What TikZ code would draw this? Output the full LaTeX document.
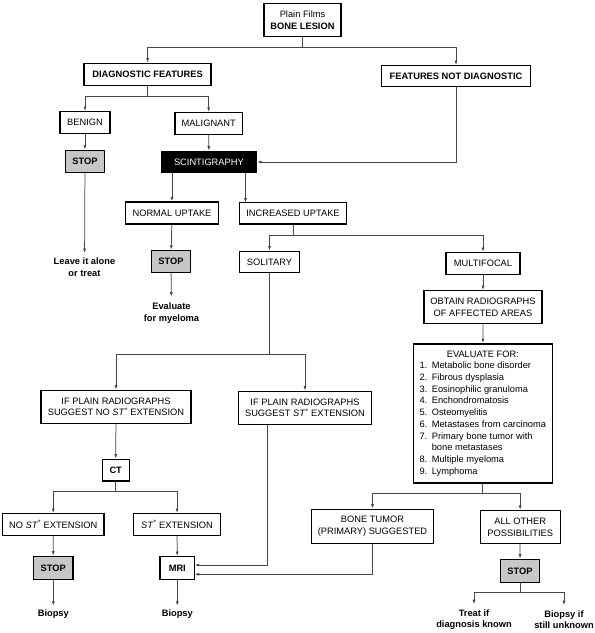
\documentclass[tikz,border=0pt]{standalone}
\usepackage{fontspec}
\setmainfont{Liberation Sans}
\usetikzlibrary{arrows.meta}
\definecolor{stopgray}{gray}{0.78}
\definecolor{linegray}{gray}{0.28}
\newcommand{\stmark}{\textit{ST}\textsuperscript{*}}
\begin{document}
\begin{tikzpicture}[x=1pt,y=-1pt,
  box/.style={draw=black, line width=1.4pt, fill=white, inner sep=1pt, font=\fontsize{9.3}{11.7}\selectfont, align=center},
  bbox/.style={box, font=\fontsize{9.3}{11.7}\selectfont\bfseries},
  stopbox/.style={box, fill=stopgray, font=\fontsize{9.3}{11.7}\selectfont\bfseries, minimum width=39.5pt, minimum height=22pt},
  darkbox/.style={box, fill=black, text=white},
  note/.style={font=\fontsize{9.3}{11.7}\selectfont\bfseries, align=center, inner sep=0pt},
  conn/.style={draw=linegray, line width=0.75pt},
  arr/.style={conn, -{Latex[length=4.5pt,width=3pt]}}
]
\useasboundingbox (0,0) rectangle (595,633);
\fill[white] (0,0) rectangle (595,633);

% nodes
\node[box, minimum width=77pt, minimum height=33pt] (top) at (302.5,20) {Plain Films\\\textbf{BONE LESION}};
\node[bbox, minimum width=127pt, minimum height=22pt] (df) at (147.6,74.3) {DIAGNOSTIC FEATURES};
\node[bbox, minimum width=149pt, minimum height=21pt] (fnd) at (456,76.2) {FEATURES NOT DIAGNOSTIC};
\node[box, minimum width=50pt, minimum height=21.6pt] (ben) at (85,122.5) {BENIGN};
\node[box, minimum width=67.5pt, minimum height=21.6pt] (mal) at (208.7,123.5) {MALIGNANT};
\node[stopbox] (stop1) at (85,161.2) {STOP};
\node[darkbox, minimum width=95pt, minimum height=21.4pt] (sci) at (208.9,162) {SCINTIGRAPHY};
\node[box, minimum width=93pt, minimum height=22pt] (nu) at (172,213) {NORMAL UPTAKE};
\node[box, minimum width=107pt, minimum height=21.3pt] (iu) at (293,213.3) {INCREASED UPTAKE};
\node[note] (leave) at (84.5,267.5) {Leave it alone\\or treat};
\node[stopbox] (stop2) at (171,261.5) {STOP};
\node[note] (myel) at (171.5,313) {Evaluate\\for myeloma};
\node[box, minimum width=60pt, minimum height=21.4pt] (sol) at (269.5,262) {SOLITARY};
\node[box, minimum width=74pt, minimum height=21.6pt] (mul) at (483,263.5) {MULTIFOCAL};
\node[box, minimum width=118pt, minimum height=33pt] (obt) at (483,307.2) {OBTAIN RADIOGRAPHS\\OF AFFECTED AREAS};
\node[box, minimum width=139pt, minimum height=139pt] (eval) at (482.8,413.3) {%
  \begin{tabular}{@{}r@{\hspace{4.5pt}}l@{}}
  \multicolumn{2}{c}{EVALUATE FOR:}\\
  1. & Metabolic bone disorder\\
  2. & Fibrous dysplasia\\
  3. & Eosinophilic granuloma\\
  4. & Enchondromatosis\\
  5. & Osteomyelitis\\
  6. & Metastases from carcinoma\\
  7. & Primary bone tumor with\\
     & bone metastases\\
  8. & Multiple myeloma\\
  9. & Lymphoma
  \end{tabular}};
\node[box, minimum width=150pt, minimum height=33pt] (ifno) at (116,406.8) {IF PLAIN RADIOGRAPHS\\SUGGEST NO \stmark{} EXTENSION};
\node[box, minimum width=133.4pt, minimum height=33pt] (ifst) at (305,407.8) {IF PLAIN RADIOGRAPHS\\SUGGEST \stmark{} EXTENSION};
\node[bbox, minimum width=27pt, minimum height=21.7pt] (ct) at (115.7,470.2) {CT};
\node[box, minimum width=101.7pt, minimum height=21.6pt] (nost) at (53.2,524.5) {NO \stmark{} EXTENSION};
\node[box, minimum width=87.4pt, minimum height=21.6pt] (stx) at (177,524.5) {\stmark{} EXTENSION};
\node[stopbox, minimum height=23pt] (stop3) at (53.3,567.8) {STOP};
\node[bbox, minimum width=34.7pt, minimum height=22.6pt] (mri) at (177.3,568) {MRI};
\node[note] (bio1) at (53.3,614.3) {Biopsy};
\node[note] (bio2) at (177.3,614.3) {Biopsy};
\node[box, minimum width=121.7pt, minimum height=34pt] (bt) at (372.5,526.3) {BONE TUMOR\\(PRIMARY) SUGGESTED};
\node[box, minimum width=80pt, minimum height=33pt] (ao) at (520.2,527) {ALL OTHER\\POSSIBILITIES};
\node[stopbox, minimum height=23.4pt] (stop4) at (520,571) {STOP};
\node[note] (treat) at (474,619.6) {Treat if\\diagnosis known};
\node[note] (bioif) at (564,619.6) {Biopsy if\\still unknown};

% connectors
\coordinate (j1) at (302.5,47.7);
\draw[conn] (top.south) -- (j1);
\draw[arr] (j1) -| (df.north);
\draw[arr] (j1) -| (fnd.north);
\coordinate (j2) at (147.6,96);
\draw[conn] (df.south) -- (j2);
\draw[arr] (j2) -| (ben.north);
\draw[arr] (j2) -| (mal.north);
\draw[arr] (ben) -- (stop1);
\draw[arr] (mal) -- (sci);
\draw[arr] (fnd.south) |- (sci.east);
\draw[arr] (sci.south -| nu.north) -- (nu.north);
\coordinate (iuin) at (245.5,202.65);
\draw[arr] (sci.south -| iuin) -- (iuin);
\draw[arr, shorten >=5pt] (stop1) -- (leave);
\draw[arr] (nu) -- (stop2);
\draw[arr, shorten >=6pt] (stop2) -- (myel);
\coordinate (j3) at (293,235);
\draw[conn] (iu.south) -- (j3);
\draw[arr] (j3) -| (sol.north);
\draw[arr] (j3) -| (mul.north);
\draw[arr] (mul) -- (obt);
\draw[arr] (obt) -- (eval);
\coordinate (j4) at (269.5,354.3);
\draw[conn] (sol.south) -- (j4);
\draw[arr] (j4) -| (ifno.north);
\draw[arr] (j4) -| (ifst.north);
\draw[arr] (ifno) -- (ct);
\coordinate (j5) at (115.7,491);
\draw[conn] (ct.south) -- (j5);
\draw[arr] (j5) -| (nost.north);
\draw[arr] (j5) -| (stx.north);
\draw[arr] (nost) -- (stop3);
\draw[arr] (stx) -- (mri);
\draw[arr, shorten >=4pt] (stop3) -- (bio1);
\draw[arr, shorten >=4pt] (mri) -- (bio2);
\coordinate (ifsto) at (267.7,424.3);
\coordinate (mri1) at (194.65,565);
\draw[arr] (ifst.south -| ifsto) |- (mri1);
\coordinate (mri2) at (194.65,574.3);
\draw[arr] (bt.south) |- (mri2);
\coordinate (j6) at (482.8,493.3);
\draw[conn] (eval.south) -- (j6);
\draw[arr] (j6) -| (bt.north);
\draw[arr] (j6) -| (ao.north);
\draw[arr] (ao) -- (stop4);
\coordinate (j7) at (520,592.7);
\draw[conn] (stop4.south) -- (j7);
\draw[arr, shorten >=5pt] (j7) -| (treat.north);
\draw[arr, shorten >=5pt] (j7) -| (bioif.north);
\end{tikzpicture}
\end{document}
